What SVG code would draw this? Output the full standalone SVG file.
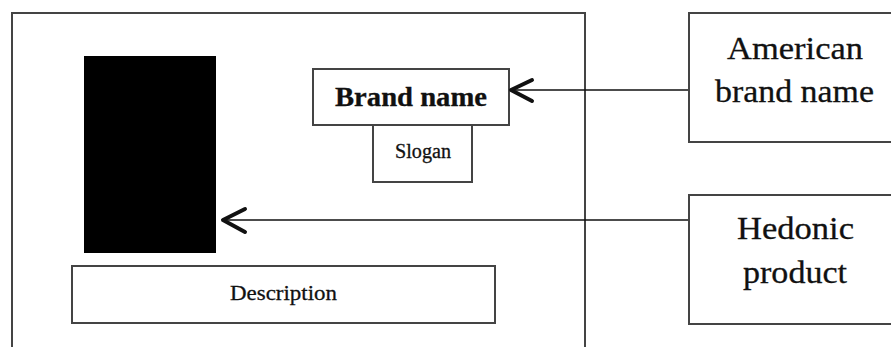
<svg xmlns="http://www.w3.org/2000/svg" width="891" height="347" viewBox="0 0 891 347">
  <style>
    .box { fill: #fff; stroke: #444; stroke-width: 2; }
    .txt { font-family: "Liberation Serif", "Times New Roman", serif; fill: #111; stroke: #111; stroke-width: 0.3; text-anchor: middle; }
    .link { stroke: #111; stroke-width: 1.6; fill: none; }
    .head { stroke: #111; stroke-width: 4; fill: none; stroke-linecap: round; stroke-linejoin: round; }
  </style>
  <rect width="891" height="347" fill="#fff"/>

  <!-- advertisement frame -->
  <g id="ad-frame">
    <rect class="box" x="12" y="13" width="573" height="360"/>
  </g>

  <g id="product-image">
    <rect x="84" y="56" width="132" height="197" fill="#000"/>
  </g>

  <g id="brand-name">
    <rect class="box" x="313" y="69" width="196" height="56"/>
    <text class="txt" x="411" y="105.5" font-size="27" font-weight="bold" textLength="152" lengthAdjust="spacingAndGlyphs">Brand name</text>
  </g>

  <g id="slogan">
    <rect class="box" x="373" y="125" width="99" height="57"/>
    <text class="txt" x="423" y="158" font-size="20" textLength="56" lengthAdjust="spacingAndGlyphs">Slogan</text>
  </g>

  <g id="description">
    <rect class="box" x="72" y="266" width="423" height="57"/>
    <text class="txt" x="283.5" y="300" font-size="22" textLength="107" lengthAdjust="spacingAndGlyphs">Description</text>
  </g>

  <g id="american-brand-name">
    <rect class="box" x="689" y="13" width="220" height="129"/>
    <text class="txt" x="795" y="59" font-size="32" textLength="136" lengthAdjust="spacingAndGlyphs">American</text>
    <text class="txt" x="794.5" y="102" font-size="32" textLength="159" lengthAdjust="spacingAndGlyphs">brand name</text>
  </g>

  <g id="hedonic-product">
    <rect class="box" x="689" y="195" width="220" height="129"/>
    <text class="txt" x="795.5" y="239" font-size="32" textLength="117" lengthAdjust="spacingAndGlyphs">Hedonic</text>
    <text class="txt" x="795" y="283" font-size="32" textLength="104" lengthAdjust="spacingAndGlyphs">product</text>
  </g>

  <!-- connectors -->
  <g id="connectors">
    <line class="link" x1="688" y1="90" x2="511" y2="90"/>
    <polyline class="head" points="532,80 511,90 532,101"/>
    <line class="link" x1="688" y1="220" x2="223" y2="220"/>
    <polyline class="head" points="245,209 223,220 245,232"/>
  </g>
</svg>
